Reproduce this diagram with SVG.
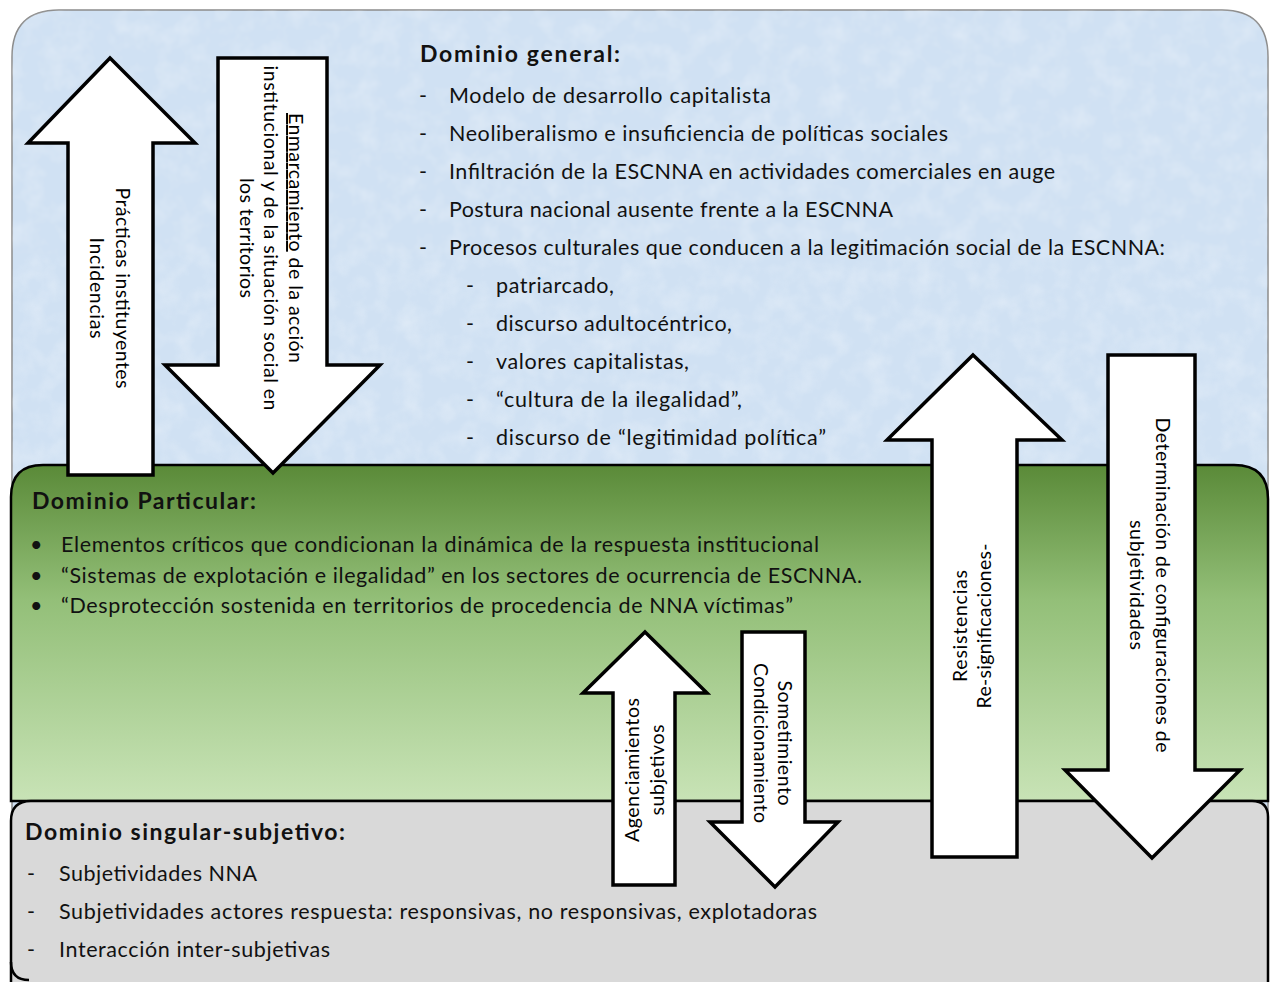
<svg xmlns="http://www.w3.org/2000/svg" width="1270" height="982" viewBox="0 0 1270 982">
<defs>
<linearGradient id="greenGrad" x1="0" y1="0" x2="0" y2="1">
<stop offset="0" stop-color="#5a8a38"/>
<stop offset="0.4" stop-color="#93bf78"/>
<stop offset="1" stop-color="#c8e3b6"/>
</linearGradient>
<filter id="tex" x="0" y="0" width="100%" height="100%">
<feTurbulence type="fractalNoise" baseFrequency="0.045" numOctaves="3" seed="7"/>
<feColorMatrix type="matrix" values="0 0 0 0 1  0 0 0 0 1  0 0 0 0 1  0 0 0 0.9 -0.35"/>
</filter>
<clipPath id="blueClip"><path d="M12,57 Q12,10 59,10 L1222,10 Q1268,10 1268,57 L1268,982 L12,982 Z"/></clipPath>
</defs>
<style>
.txt{font-family:Lato,"Open Sans","Liberation Sans",sans-serif;font-size:21.5px;fill:#111}
.hdr{font-family:Lato,"Open Sans","Liberation Sans",sans-serif;font-size:23px;font-weight:bold;fill:#111}
.atx{font-family:Lato,"Open Sans","Liberation Sans",sans-serif;font-size:19.5px;fill:#000}
.arrow{fill:#fff;stroke:#000;stroke-width:3.5;stroke-linejoin:miter}
</style>
<rect width="1270" height="982" fill="#ffffff"/>
<g id="dominio-general">
<path d="M12,57 Q12,10 59,10 L1222,10 Q1268,10 1268,57 L1268,982 L12,982 Z" fill="#d0e1f3" stroke="#8c8c8c" stroke-width="1.5"/>
<rect x="12" y="10" width="1256" height="972" clip-path="url(#blueClip)" filter="url(#tex)" opacity="0.55"/>
<text class="hdr" x="420" y="62" textLength="200" lengthAdjust="spacing">Dominio general:</text>
<g class="txt">
<text x="419" y="103">-</text><text x="449" y="103" textLength="322" lengthAdjust="spacing">Modelo de desarrollo capitalista</text>
<text x="419" y="141">-</text><text x="449" y="141" textLength="499" lengthAdjust="spacing">Neoliberalismo e insuficiencia de políticas sociales</text>
<text x="419" y="179">-</text><text x="449" y="179" textLength="606" lengthAdjust="spacing">Infiltración de la ESCNNA en actividades comerciales en auge</text>
<text x="419" y="217">-</text><text x="449" y="217" textLength="444" lengthAdjust="spacing">Postura nacional ausente frente a la ESCNNA</text>
<text x="419" y="255">-</text><text x="449" y="255" textLength="716" lengthAdjust="spacing">Procesos culturales que conducen a la legitimación social de la ESCNNA:</text>
<text x="466" y="293">-</text><text x="496" y="293" textLength="118" lengthAdjust="spacing">patriarcado,</text>
<text x="466" y="331">-</text><text x="496" y="331" textLength="236" lengthAdjust="spacing">discurso adultocéntrico,</text>
<text x="466" y="369">-</text><text x="496" y="369" textLength="193" lengthAdjust="spacing">valores capitalistas,</text>
<text x="466" y="407">-</text><text x="496" y="407" textLength="246" lengthAdjust="spacing">“cultura de la ilegalidad”,</text>
<text x="466" y="445">-</text><text x="496" y="445" textLength="330" lengthAdjust="spacing">discurso de “legitimidad política”</text>
</g>
</g>
<g id="dominio-particular">
<path d="M11,801 L11,497 Q11,465 43,465 L1234,465 Q1268,465 1268,499 L1268,801 Z" fill="url(#greenGrad)" stroke="#000" stroke-width="2.5"/>
<text class="hdr" x="32" y="509" textLength="224" lengthAdjust="spacing">Dominio Particular:</text>
<g class="txt">
<text x="30" y="552">•</text><text x="61" y="552" textLength="758" lengthAdjust="spacing">Elementos críticos que condicionan la dinámica de la respuesta institucional</text>
<text x="30" y="583">•</text><text x="61" y="583" textLength="801" lengthAdjust="spacing">“Sistemas de explotación e ilegalidad” en los sectores de ocurrencia de ESCNNA.</text>
<text x="30" y="613">•</text><text x="61" y="613" textLength="732" lengthAdjust="spacing">“Desprotección sostenida en territorios de procedencia de NNA víctimas”</text>
</g>
</g>
<g id="dominio-singular">
<path d="M11,982 L11,821 Q11,801 31,801 L1252,801 Q1268,801 1268,817 L1268,982" fill="#d9d9d9" stroke="#000" stroke-width="2.5"/>
<path d="M11,962 Q11,980 29,980" fill="none" stroke="#000" stroke-width="2.5"/>
<text class="hdr" x="25" y="840" textLength="320" lengthAdjust="spacing">Dominio singular-subjetivo:</text>
<g class="txt">
<text x="27" y="881">-</text><text x="59" y="881" textLength="198" lengthAdjust="spacing">Subjetividades NNA</text>
<text x="27" y="919">-</text><text x="59" y="919" textLength="758" lengthAdjust="spacing">Subjetividades actores respuesta: responsivas, no responsivas, explotadoras</text>
<text x="27" y="957">-</text><text x="59" y="957" textLength="271" lengthAdjust="spacing">Interacción inter-subjetivas</text>
</g>
</g>
<g id="connectors">
<g id="arrow-practicas">
<path class="arrow" d="M110,58 L195,143 L153,143 L153,475 L68,475 L68,143 L28,143 Z"/>
<g transform="translate(116,288) rotate(90)" class="atx" text-anchor="middle">
<text x="0" y="0" textLength="201" lengthAdjust="spacing">Prácticas instituyentes</text>
<text x="0" y="26" textLength="101" lengthAdjust="spacing">Incidencias</text>
</g>
</g>
<g id="arrow-enmarcamiento">
<path class="arrow" d="M218,58 L327,58 L327,365 L380,365 L273,473 L165,365 L218,365 Z"/>
<g transform="translate(289,238) rotate(90)" class="atx" text-anchor="middle">
<text x="0" y="0" textLength="250" lengthAdjust="spacing"><tspan text-decoration="underline">Enmarcamiento</tspan> de la acción</text>
<text x="0" y="25" textLength="345" lengthAdjust="spacing">institucional y de la situación social en</text>
<text x="0" y="49" textLength="120" lengthAdjust="spacing">los territorios</text>
</g>
</g>
<g id="arrow-agenciamientos">
<path class="arrow" d="M645,632 L707,693 L675,693 L675,885 L613,885 L613,693 L583,693 Z"/>
<g transform="translate(639,770) rotate(-90)" class="atx" text-anchor="middle">
<text x="0" y="0" textLength="144" lengthAdjust="spacing">Agenciamientos</text>
<text x="0" y="25" textLength="91" lengthAdjust="spacing">subjetivos</text>
</g>
</g>
<g id="arrow-sometimiento">
<path class="arrow" d="M742,632 L805,632 L805,822 L838,822 L775,887 L710,822 L742,822 Z"/>
<g transform="translate(778,743) rotate(90)" class="atx" text-anchor="middle">
<text x="0" y="0" textLength="125" lengthAdjust="spacing">Sometimiento</text>
<text x="0" y="24" textLength="160" lengthAdjust="spacing">Condicionamiento</text>
</g>
</g>
<g id="arrow-resistencias">
<path class="arrow" d="M973,355 L1062,440 L1017,440 L1017,857 L932,857 L932,440 L887,440 Z"/>
<g transform="translate(967,626) rotate(-90)" class="atx" text-anchor="middle">
<text x="0" y="0" textLength="112" lengthAdjust="spacing">Resistencias</text>
<text x="0" y="24" textLength="165" lengthAdjust="spacing">Re-significaciones-</text>
</g>
</g>
<g id="arrow-determinacion">
<path class="arrow" d="M1108,355 L1195,355 L1195,770 L1240,770 L1152,858 L1065,770 L1108,770 Z"/>
<g transform="translate(1156,585) rotate(90)" class="atx" text-anchor="middle">
<text x="0" y="0" textLength="335" lengthAdjust="spacing">Determinación de configuraciones de</text>
<text x="0" y="26" textLength="130" lengthAdjust="spacing">subjetividades</text>
</g>
</g>
</g>
</svg>
